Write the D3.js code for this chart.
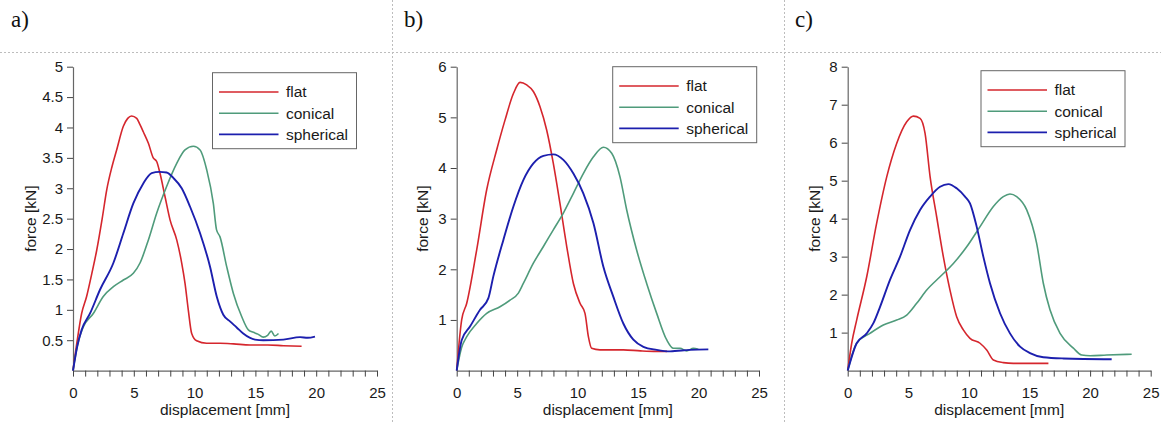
<!DOCTYPE html>
<html>
<head>
<meta charset="utf-8">
<script src="https://cdn.jsdelivr.net/npm/d3@7"></script>
<style>
  html, body { margin: 0; padding: 0; background: #fff; }
  svg { display: block; }
  text { font-family: "Liberation Sans", Arial, sans-serif; fill: #1a1a1a; }
</style>
</head>
<body>
<svg id="chart" width="1161" height="423"></svg>
<script>
// Force–displacement curves, [displacement mm, force kN]
const seriesNames = ["flat", "conical", "spherical"];
const seriesColors = ["#d5262d", "#4f9b7b", "#1c1fae"];
const panelLabels = ["a)", "b)", "c)"];
const xTicks = [0, 5, 10, 15, 20, 25];
const yTicksA = [0.5, 1, 1.5, 2, 2.5, 3, 3.5, 4, 4.5, 5];
const yTicksB = [1, 2, 3, 4, 5, 6];
const yTicksC = [1, 2, 3, 4, 5, 6, 7, 8];

const flatA = [[0,0],[0.35,0.5],[0.71,0.94],[1.12,1.22],[1.55,1.6],[1.95,1.98],[2.4,2.5],[2.77,2.97],[3.2,3.35],[3.59,3.63],[4.14,4.02],[4.5,4.15],[4.82,4.19],[5.24,4.15],[5.5,4.05],[5.78,3.93],[6.2,3.74],[6.6,3.5],[6.88,3.44],[7.15,3.25],[7.57,2.86],[7.98,2.48],[8.53,2.15],[8.94,1.77],[9.21,1.44],[9.48,1.0],[9.76,0.61],[10.17,0.49],[10.99,0.45],[12.1,0.45],[13.2,0.44],[14.56,0.42],[16.0,0.42],[17.3,0.41],[18.8,0.40]];
const conicalA = [[0,0],[0.4,0.45],[0.85,0.72],[1.67,0.94],[2.49,1.22],[3.32,1.38],[4.14,1.49],[4.96,1.6],[5.51,1.77],[6.2,2.15],[6.88,2.59],[7.7,3.03],[8.53,3.41],[9.21,3.63],[9.9,3.69],[10.45,3.63],[11.0,3.3],[11.54,2.75],[11.8,2.32],[12.09,2.2],[12.64,1.71],[13.19,1.27],[13.87,0.89],[14.42,0.67],[14.83,0.63],[15.2,0.6],[15.65,0.55],[16.0,0.58],[16.3,0.65],[16.6,0.57],[16.9,0.61]];
const sphericalA = [[0,0],[0.35,0.4],[0.71,0.67],[1.4,0.94],[2.22,1.33],[3.32,1.77],[4.14,2.26],[4.96,2.75],[5.78,3.08],[6.47,3.25],[7.1,3.27],[7.7,3.26],[8.25,3.17],[8.94,3.0],[9.62,2.7],[10.45,2.26],[11.27,1.71],[11.82,1.22],[12.36,0.92],[12.91,0.81],[13.46,0.71],[14.0,0.61],[14.97,0.51],[15.65,0.5],[17.3,0.51],[18.67,0.55],[19.3,0.54],[19.9,0.56]];

const flatB = [[0,0],[0.2,0.55],[0.41,1.0],[0.83,1.33],[1.65,2.38],[2.48,3.57],[3.31,4.36],[4.0,4.95],[4.69,5.47],[5.24,5.69],[5.79,5.64],[6.34,5.51],[6.89,5.21],[7.44,4.75],[7.99,4.09],[8.54,3.3],[9.1,2.45],[9.65,1.72],[10.2,1.33],[10.61,1.13],[10.89,0.67],[11.16,0.44],[11.85,0.41],[13.78,0.41],[15.2,0.39],[16.5,0.38],[17.4,0.38]];
const conicalB = [[0,0],[0.4,0.45],[0.83,0.67],[1.65,0.93],[2.48,1.13],[3.58,1.26],[4.41,1.39],[5.1,1.53],[5.51,1.72],[6.34,2.12],[7.17,2.45],[7.99,2.78],[8.82,3.11],[9.65,3.5],[10.47,3.89],[11.31,4.22],[12.13,4.41],[12.82,4.29],[13.5,3.83],[14.06,3.17],[14.88,2.38],[15.71,1.72],[16.54,1.13],[17.36,0.61],[17.92,0.44],[18.47,0.44],[19.02,0.39],[19.57,0.44],[19.98,0.42]];
const sphericalB = [[0,0],[0.41,0.6],[1.1,0.87],[1.93,1.2],[2.62,1.43],[3.03,1.86],[3.86,2.58],[4.69,3.24],[5.51,3.76],[6.34,4.09],[7.17,4.24],[7.99,4.27],[8.82,4.16],[9.65,3.89],[10.47,3.5],[11.31,2.91],[12.13,2.05],[12.95,1.46],[13.78,0.93],[14.61,0.61],[15.44,0.47],[16.54,0.41],[17.64,0.38],[19.29,0.41],[20.81,0.42]];

const flatC = [[0,0],[0.33,0.72],[0.74,1.33],[1.57,2.47],[2.39,3.88],[3.22,5.1],[4.04,5.98],[4.87,6.55],[5.42,6.7],[5.97,6.64],[6.38,6.25],[6.8,5.1],[7.34,4.05],[7.89,3.0],[8.44,2.12],[8.99,1.42],[9.54,1.07],[10.09,0.85],[10.92,0.72],[11.47,0.54],[12.02,0.28],[12.84,0.21],[13.67,0.19],[16.56,0.19]];
const conicalC = [[0,0],[0.74,0.72],[1.84,0.98],[2.94,1.2],[4.04,1.33],[4.87,1.46],[5.69,1.77],[6.52,2.12],[7.62,2.47],[8.72,2.82],[9.82,3.26],[10.92,3.79],[12.02,4.32],[12.84,4.58],[13.39,4.65],[13.94,4.58],[14.77,4.23],[15.59,3.35],[16.14,2.3],[16.69,1.6],[17.52,0.98],[18.62,0.59],[19.31,0.41],[20.0,0.39],[21.37,0.41],[23.43,0.43]];
const sphericalC = [[0,0],[0.74,0.72],[1.57,0.98],[2.12,1.25],[2.67,1.68],[3.49,2.39],[4.32,3.0],[5.14,3.7],[5.97,4.23],[6.79,4.58],[7.62,4.84],[8.31,4.91],[8.99,4.8],[9.68,4.58],[10.09,4.4],[10.64,3.79],[11.19,3.0],[11.74,2.3],[12.57,1.51],[13.39,0.98],[14.22,0.63],[15.04,0.46],[16.14,0.35],[17.79,0.32],[21.78,0.3]];

// Layout of the three panels
const panels = [
  { label: panelLabels[0], labelX: 11, left: 73,    right: 377,    yMax: 5, yTicks: yTicksA, series: [flatA, conicalA, sphericalA], titleX: 31,  legendX: 212.5, legendY: 72.7 },
  { label: panelLabels[1], labelX: 404, left: 456.7, right: 759,   yMax: 6, yTicks: yTicksB, series: [flatB, conicalB, sphericalB], titleX: 423, legendX: 612.7, legendY: 66.7 },
  { label: panelLabels[2], labelX: 795, left: 847.7, right: 1150.7, yMax: 8, yTicks: yTicksC, series: [flatC, conicalC, sphericalC], titleX: 815, legendX: 981,   legendY: 70.7 }
];
const plotTop = 66.7, plotBottom = 370.6;

const svg = d3.select("#chart");

// dotted frame lines separating the panels
const sep = svg.append("g").attr("stroke", "#bdbdbd").attr("stroke-width", 1).attr("stroke-dasharray", "2,2");
sep.append("line").attr("x1", 0).attr("x2", 1161).attr("y1", 52.5).attr("y2", 52.5);
[392.5, 784.5].forEach(x => sep.append("line").attr("x1", x).attr("x2", x).attr("y1", 0).attr("y2", 423));

panels.forEach(p => {
  const g = svg.append("g");
  const x = d3.scaleLinear().domain([0, 25]).range([p.left, p.right]);
  const y = d3.scaleLinear().domain([0, p.yMax]).range([plotBottom, plotTop]);

  // panel letter
  svg.append("text").attr("x", p.labelX).attr("y", 27)
    .style("font-family", "'Liberation Serif', 'Times New Roman', serif")
    .style("font-size", "23px").style("fill", "#111").text(p.label);

  // x axis: minor ticks every mm, labels every 5 mm
  const xAxis = g.append("g").attr("transform", `translate(0,${plotBottom})`)
    .call(d3.axisBottom(x).tickValues(d3.range(0, 26, 1)).tickSize(6).tickSizeOuter(0)
      .tickFormat(d => xTicks.includes(d) ? d : ""));
  xAxis.select(".domain").attr("stroke", "#666").attr("stroke-width", 1.2);
  xAxis.selectAll(".tick line").attr("stroke", "#444");
  xAxis.selectAll(".tick text").attr("dy", "1.2em").style("font-size", "15px").style("font-family", "'Liberation Sans', Arial, sans-serif").attr("fill", "#1a1a1a");

  // y axis
  const yAxis = g.append("g").attr("transform", `translate(${p.left},0)`)
    .call(d3.axisLeft(y).tickValues(p.yTicks).tickSize(6).tickSizeOuter(0).tickFormat(d3.format("~g")));
  yAxis.select(".domain").attr("stroke", "#666").attr("stroke-width", 1.2);
  yAxis.selectAll(".tick line").attr("stroke", "#444");
  yAxis.selectAll(".tick text").attr("x", -10).style("font-size", "15px").style("font-family", "'Liberation Sans', Arial, sans-serif").attr("fill", "#1a1a1a");

  // axis titles
  g.append("text").attr("x", (p.left + p.right) / 2).attr("y", 415)
    .attr("text-anchor", "middle").style("font-size", "15.5px").text("displacement [mm]");
  g.append("text").attr("transform", `translate(${p.titleX},${(plotTop + plotBottom) / 2}) rotate(-90)`)
    .attr("text-anchor", "middle").attr("dy", "0.35em").style("font-size", "15.5px").text("force [kN]");

  // curves
  const line = d3.line().x(d => x(d[0])).y(d => y(d[1])).curve(d3.curveMonotoneX);
  p.series.forEach((s, i) => {
    g.append("path").datum(s).attr("d", line)
      .attr("fill", "none").attr("stroke", seriesColors[i])
      .attr("stroke-width", i === 2 ? 1.9 : 1.6).attr("stroke-linejoin", "round");
  });

  // legend
  const lg = g.append("g").attr("transform", `translate(${p.legendX},${p.legendY})`);
  lg.append("rect").attr("x", 0).attr("y", 0).attr("width", 144).attr("height", 76)
    .attr("fill", "#fff").attr("stroke", "#666").attr("stroke-width", 1);
  seriesNames.forEach((name, i) => {
    const ry = 19.3 + i * 21.2;
    lg.append("line").attr("x1", 6.5).attr("x2", 66).attr("y1", ry).attr("y2", ry)
      .attr("stroke", seriesColors[i]).attr("stroke-width", i === 2 ? 1.9 : 1.6);
    lg.append("text").attr("x", 73.5).attr("y", ry).attr("dy", "0.35em")
      .style("font-size", "15.5px").text(name);
  });
});
</script>
</body>
</html>
